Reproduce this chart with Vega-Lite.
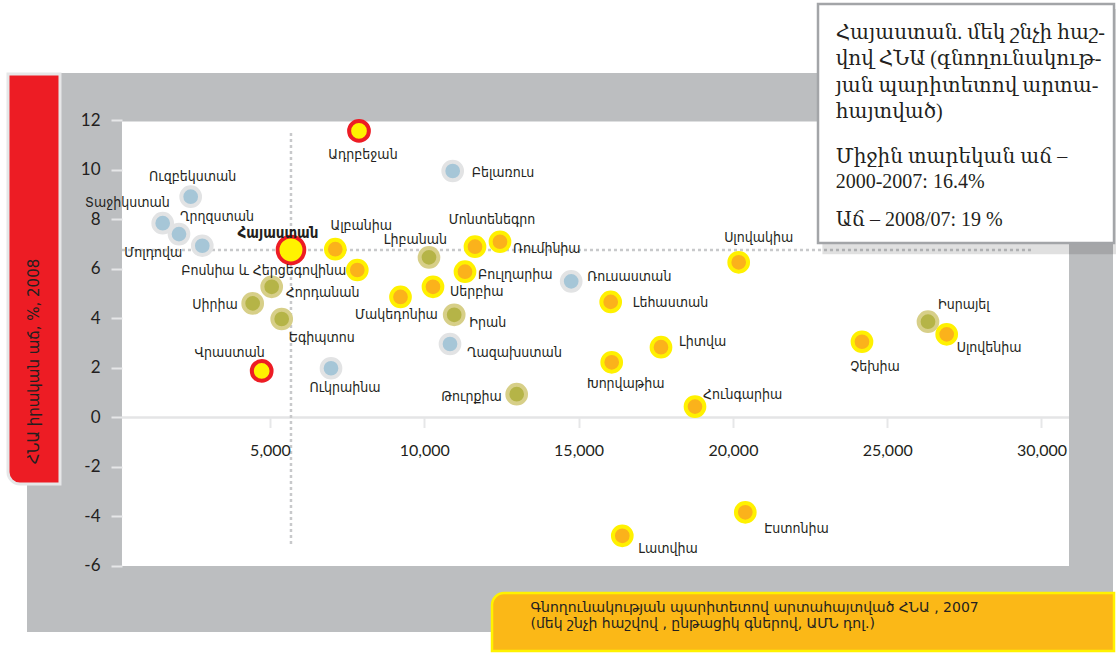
{
 "$schema": "https://vega.github.io/schema/vega-lite/v6.json",
 "width": 1086,
 "height": 559,
 "autosize": {"type": "none"},
 "padding": {"left": 27, "top": 73, "right": 3, "bottom": 22},
 "background": "white",
 "config": {
  "view": {"fill": "#bcbec0", "stroke": null},
  "axis": {"domain": false, "grid": false, "tickColor": "#e6e7e8", "tickWidth": 2, "labelColor": "#231f20", "labelFont": "Lato", "titleColor": "#231f20", "titleFont": "DejaVu Sans", "titleFontWeight": "normal"},
  "text": {"font": "DejaVu Sans Condensed, DejaVu Sans", "fontSize": 14, "fill": "#231f20", "baseline": "middle"}
 },
 "data": {"values": [
  {"country": "Տաջիկստան", "region": "CIS", "gdp": 1523, "growth": 7.85},
  {"country": "Ղրղզստան", "region": "CIS", "gdp": 2051, "growth": 7.41},
  {"country": "Ուզբեկստան", "region": "CIS", "gdp": 2430, "growth": 8.92},
  {"country": "Մոլդովա", "region": "CIS", "gdp": 2806, "growth": 6.94},
  {"country": "Բելառուս", "region": "CIS", "gdp": 10920, "growth": 9.96},
  {"country": "Ուկրաինա", "region": "CIS", "gdp": 6977, "growth": 1.99},
  {"country": "Ղազախստան", "region": "CIS", "gdp": 10833, "growth": 2.97},
  {"country": "Ռուսաստան", "region": "CIS", "gdp": 14760, "growth": 5.5},
  {"country": "Սիրիա", "region": "ME", "gdp": 4439, "growth": 4.61},
  {"country": "Հորդանան", "region": "ME", "gdp": 5055, "growth": 5.28},
  {"country": "Եգիպտոս", "region": "ME", "gdp": 5379, "growth": 3.98},
  {"country": "Լիբանան", "region": "ME", "gdp": 10152, "growth": 6.47},
  {"country": "Իրան", "region": "ME", "gdp": 10969, "growth": 4.15},
  {"country": "Թուրքիա", "region": "ME", "gdp": 12994, "growth": 0.94},
  {"country": "Իսրայել", "region": "ME", "gdp": 26322, "growth": 3.87},
  {"country": "Ալբանիա", "region": "EU", "gdp": 7116, "growth": 6.8},
  {"country": "Բոսնիա և Հերցեգովինա", "region": "EU", "gdp": 7829, "growth": 5.96},
  {"country": "Մակեդոնիա", "region": "EU", "gdp": 9229, "growth": 4.87},
  {"country": "Սերբիա", "region": "EU", "gdp": 10282, "growth": 5.28},
  {"country": "Բուլղարիա", "region": "EU", "gdp": 11319, "growth": 5.89},
  {"country": "Մոնտենեգրո", "region": "EU", "gdp": 11643, "growth": 6.9},
  {"country": "Ռումինիա", "region": "EU", "gdp": 12453, "growth": 7.1},
  {"country": "Լեհաստան", "region": "EU", "gdp": 16040, "growth": 4.67},
  {"country": "Խորվաթիա", "region": "EU", "gdp": 16073, "growth": 2.23},
  {"country": "Լատվիա", "region": "EU", "gdp": 16416, "growth": -4.78},
  {"country": "Լիտվա", "region": "EU", "gdp": 17670, "growth": 2.84},
  {"country": "Հունգարիա", "region": "EU", "gdp": 18772, "growth": 0.44},
  {"country": "Սլովակիա", "region": "EU", "gdp": 20188, "growth": 6.27},
  {"country": "Էստոնիա", "region": "EU", "gdp": 20402, "growth": -3.83},
  {"country": "Չեխիա", "region": "EU", "gdp": 24183, "growth": 3.06},
  {"country": "Սլովենիա", "region": "EU", "gdp": 26928, "growth": 3.36},
  {"country": "Վրաստան", "region": "SC", "gdp": 4731, "growth": 1.88},
  {"country": "Ադրբեջան", "region": "SC", "gdp": 7884, "growth": 11.58},
  {"country": "Հայաստան", "region": "SC", "gdp": 5680, "growth": 6.77}
 ]},
 "layer": [
  {
   "mark": {"type": "point", "shape": "circle", "filled": true, "opacity": 0},
   "encoding": {
    "x": {"field": "gdp", "type": "quantitative", "scale": {"domain": [-2874, 32317], "nice": false, "zero": false},
     "axis": {"orient": "bottom", "offset": -214.5, "zindex": 1, "values": [5000, 10000, 15000, 20000, 25000, 30000], "format": ",d", "tickSize": 10, "labelFontSize": 16, "labelPadding": 15, "labelBaseline": "top",
      "title": ["Գնողունակության պարիտետով արտահայտված ՀՆԱ , 2007", " (մեկ շնչի հաշվով , ընթացիկ գներով, ԱՄՆ դոլ.)"],
      "titleX": 503, "titleY": 189.5, "titleAlign": "left", "titleBaseline": "middle", "titleAngle": 0, "titleFontSize": 14, "titleLineHeight": 16.5, "titleFont": "DejaVu Sans"}},
    "y": {"field": "growth", "type": "quantitative", "scale": {"domain": [-8.667, 13.919], "nice": false, "zero": false},
     "axis": {"orient": "left", "offset": -95, "zindex": 1, "values": [-6, -4, -2, 0, 2, 4, 6, 8, 10, 12], "labelExpr": "'' + datum.value", "tickSize": 11, "labelPadding": 11, "labelFontSize": 17,
      "title": "ՀՆԱ իրական աճ, %, 2008", "titleX": -88.5, "titleY": 288, "titleAngle": 270, "titleAlign": "center", "titleBaseline": "middle", "titleFontSize": 15, "titleFont": "DejaVu Sans"}}
   }
  },
  {
   "data": {"values": [{}]},
   "mark": {"type": "rect", "fill": "white"},
   "encoding": {
    "x": {"datum": 204, "type": "quantitative"},
    "x2": {"datum": 30891},
    "y": {"datum": 11.96, "type": "quantitative"},
    "y2": {"datum": -6}
   }
  },
  {
   "data": {"values": [{}]},
   "mark": {"type": "rule", "stroke": "#e4e5e6", "strokeWidth": 2.5},
   "encoding": {
    "x": {"datum": 204, "type": "quantitative"},
    "x2": {"datum": 30891},
    "y": {"datum": 0, "type": "quantitative"}
   }
  },
  {
   "transform": [{"filter": "datum.country === 'Հայաստան'"}],
   "mark": {"type": "rule", "stroke": "#c8c9cb", "strokeWidth": 2.5, "strokeDash": [3, 3]},
   "encoding": {
    "x": {"field": "gdp", "type": "quantitative"},
    "y": {"datum": 11.49, "type": "quantitative"},
    "y2": {"datum": -5.19}
   }
  },
  {
   "transform": [{"filter": "datum.country === 'Հայաստան'"}],
   "mark": {"type": "rule", "stroke": "#c8c9cb", "strokeWidth": 2.5, "strokeDash": [3, 3]},
   "encoding": {
    "y": {"field": "growth", "type": "quantitative"},
    "x": {"datum": 204, "type": "quantitative"},
    "x2": {"datum": 29692}
   }
  },
  {
   "mark": {"type": "point", "shape": "circle", "filled": true, "opacity": 1, "fillOpacity": 1, "strokeOpacity": 1},
   "encoding": {
    "x": {"field": "gdp", "type": "quantitative"},
    "y": {"field": "growth", "type": "quantitative"},
    "fill": {"field": "region", "type": "nominal", "legend": null, "scale": {"domain": ["CIS", "ME", "EU", "SC"], "range": ["#a6c6d7", "#b5b447", "#fbb21b", "#fff200"]}},
    "stroke": {"field": "region", "type": "nominal", "legend": null, "scale": {"domain": ["CIS", "ME", "EU", "SC"], "range": ["#e2e3e4", "#d7cf88", "#fff100", "#ed1c24"]}},
    "size": {"condition": [{"test": "datum.country === 'Հայաստան'", "value": 718}, {"test": "datum.region === 'SC'", "value": 390}], "value": 350},
    "strokeWidth": {"condition": [{"test": "datum.country === 'Հայաստան'", "value": 3.8}], "value": 4}
   }
  },
  {
   "encoding": {
    "x": {"field": "gdp", "type": "quantitative"},
    "y": {"field": "growth", "type": "quantitative"},
    "text": {"field": "country", "type": "nominal"}
   },
   "layer": [
    {"transform": [{"filter": "datum.country === 'Ադրբեջան'"}], "mark": {"type": "text", "align": "center", "dx": 4, "dy": 24}},
    {"transform": [{"filter": "datum.country === 'Բելառուս'"}], "mark": {"type": "text", "align": "left", "dx": 19, "dy": 2}},
    {"transform": [{"filter": "datum.country === 'Ուզբեկստան'"}], "mark": {"type": "text", "align": "center", "dx": 2, "dy": -20}},
    {"transform": [{"filter": "datum.country === 'Տաջիկստան'"}], "mark": {"type": "text", "align": "right", "dx": 7, "dy": -20}},
    {"transform": [{"filter": "datum.country === 'Ղրղզստան'"}], "mark": {"type": "text", "align": "left", "dx": 1, "dy": -17}},
    {"transform": [{"filter": "datum.country === 'Մոլդովա'"}], "mark": {"type": "text", "align": "right", "dx": -20, "dy": 7}},
    {"transform": [{"filter": "datum.country === 'Հայաստան'"}], "mark": {"type": "text", "align": "center", "dx": -13, "dy": -17, "fontWeight": "bold", "fontSize": 15}},
    {"transform": [{"filter": "datum.country === 'Ալբանիա'"}], "mark": {"type": "text", "align": "center", "dx": 26, "dy": -23}},
    {"transform": [{"filter": "datum.country === 'Բոսնիա և Հերցեգովինա'"}], "mark": {"type": "text", "align": "right", "dx": -11, "dy": 1}},
    {"transform": [{"filter": "datum.country === 'Հորդանան'"}], "mark": {"type": "text", "align": "left", "dx": 14, "dy": 6}},
    {"transform": [{"filter": "datum.country === 'Սիրիա'"}], "mark": {"type": "text", "align": "right", "dx": -15, "dy": 2}},
    {"transform": [{"filter": "datum.country === 'Եգիպտոս'"}], "mark": {"type": "text", "align": "left", "dx": 7, "dy": 19}},
    {"transform": [{"filter": "datum.country === 'Վրաստան'"}], "mark": {"type": "text", "align": "right", "dx": 3, "dy": -18}},
    {"transform": [{"filter": "datum.country === 'Ուկրաինա'"}], "mark": {"type": "text", "align": "center", "dx": 14, "dy": 20}},
    {"transform": [{"filter": "datum.country === 'Լիբանան'"}], "mark": {"type": "text", "align": "right", "dx": 18, "dy": -17}},
    {"transform": [{"filter": "datum.country === 'Մոնտենեգրո'"}], "mark": {"type": "text", "align": "center", "dx": 17, "dy": -27}},
    {"transform": [{"filter": "datum.country === 'Ռումինիա'"}], "mark": {"type": "text", "align": "left", "dx": 13, "dy": 7}},
    {"transform": [{"filter": "datum.country === 'Բուլղարիա'"}], "mark": {"type": "text", "align": "left", "dx": 13, "dy": 3}},
    {"transform": [{"filter": "datum.country === 'Սերբիա'"}], "mark": {"type": "text", "align": "left", "dx": 17, "dy": 5}},
    {"transform": [{"filter": "datum.country === 'Մակեդոնիա'"}], "mark": {"type": "text", "align": "center", "dx": -4, "dy": 18}},
    {"transform": [{"filter": "datum.country === 'Իրան'"}], "mark": {"type": "text", "align": "left", "dx": 15, "dy": 8}},
    {"transform": [{"filter": "datum.country === 'Ղազախստան'"}], "mark": {"type": "text", "align": "left", "dx": 17, "dy": 9}},
    {"transform": [{"filter": "datum.country === 'Թուրքիա'"}], "mark": {"type": "text", "align": "right", "dx": -15, "dy": 3}},
    {"transform": [{"filter": "datum.country === 'Ռուսաստան'"}], "mark": {"type": "text", "align": "left", "dx": 16, "dy": -4}},
    {"transform": [{"filter": "datum.country === 'Լեհաստան'"}], "mark": {"type": "text", "align": "left", "dx": 22, "dy": 1}},
    {"transform": [{"filter": "datum.country === 'Սլովակիա'"}], "mark": {"type": "text", "align": "center", "dx": 20, "dy": -24}},
    {"transform": [{"filter": "datum.country === 'Լիտվա'"}], "mark": {"type": "text", "align": "left", "dx": 18, "dy": -5}},
    {"transform": [{"filter": "datum.country === 'Խորվաթիա'"}], "mark": {"type": "text", "align": "center", "dx": 14, "dy": 22}},
    {"transform": [{"filter": "datum.country === 'Հունգարիա'"}], "mark": {"type": "text", "align": "left", "dx": 8, "dy": -12}},
    {"transform": [{"filter": "datum.country === 'Չեխիա'"}], "mark": {"type": "text", "align": "center", "dx": 13, "dy": 25}},
    {"transform": [{"filter": "datum.country === 'Իսրայել'"}], "mark": {"type": "text", "align": "left", "dx": 10, "dy": -17}},
    {"transform": [{"filter": "datum.country === 'Սլովենիա'"}], "mark": {"type": "text", "align": "left", "dx": 10, "dy": 14}},
    {"transform": [{"filter": "datum.country === 'Լատվիա'"}], "mark": {"type": "text", "align": "left", "dx": 16, "dy": 13}},
    {"transform": [{"filter": "datum.country === 'Էստոնիա'"}], "mark": {"type": "text", "align": "left", "dx": 19, "dy": 17}}
   ]
  },
  {
   "data": {"values": [{}]},
   "mark": {"type": "rect", "fill": "#ed1c24", "stroke": "#e6e7e8", "strokeWidth": 3, "cornerRadiusBottomLeft": 12},
   "encoding": {
    "x": {"datum": -3490, "type": "quantitative"},
    "x2": {"datum": -1805},
    "y": {"datum": 13.879, "type": "quantitative"},
    "y2": {"datum": -2.687}
   }
  },
  {
   "data": {"values": [{}]},
   "mark": {"type": "rect", "fill": "#fbb817", "stroke": "#fff200", "strokeWidth": 2.5, "cornerRadiusTopLeft": 12},
   "encoding": {
    "x": {"datum": 12194, "type": "quantitative"},
    "x2": {"datum": 32350},
    "y": {"datum": -7.091, "type": "quantitative"},
    "y2": {"datum": -9.435}
   }
  },
  {
   "data": {"values": [{}]},
   "mark": {"type": "rect", "fill": "#000000", "opacity": 0.12},
   "encoding": {
    "x": {"datum": 22900, "type": "quantitative"},
    "x2": {"datum": 32500},
    "y": {"datum": 16.5, "type": "quantitative"},
    "y2": {"datum": 6.6}
   }
  },
  {
   "data": {"values": [{}]},
   "mark": {"type": "rect", "fill": "white", "stroke": "#a3a5a8", "strokeWidth": 2.5},
   "encoding": {
    "x": {"datum": 22758, "type": "quantitative"},
    "x2": {"datum": 32350},
    "y": {"datum": 16.707, "type": "quantitative"},
    "y2": {"datum": 7.05}
   }
  },
  {
   "data": {"values": [{}]},
   "mark": {"type": "text", "text": ["Հայաստան. մեկ շնչի հաշ-", "վով ՀՆԱ (գնողունակութ-", "յան պարիտետով արտա-", "հայտված)"], "align": "left", "baseline": "middle", "lineHeight": 26.3, "font": "Liberation Serif, DejaVu Serif", "fontSize": 20, "fill": "#231f20"},
   "encoding": {
    "x": {"datum": 23331, "type": "quantitative"},
    "y": {"datum": 15.535, "type": "quantitative"}
   }
  },
  {
   "data": {"values": [{}]},
   "mark": {"type": "text", "text": ["Միջին տարեկան աճ –", "2000-2007: 16.4%"], "align": "left", "baseline": "middle", "lineHeight": 25, "font": "Liberation Serif, DejaVu Serif", "fontSize": 20, "fill": "#231f20"},
   "encoding": {
    "x": {"datum": 23331, "type": "quantitative"},
    "y": {"datum": 10.525, "type": "quantitative"}
   }
  },
  {
   "data": {"values": [{}]},
   "mark": {"type": "text", "text": "Աճ – 2008/07: 19 %", "align": "left", "baseline": "middle", "font": "Liberation Serif, DejaVu Serif", "fontSize": 20, "fill": "#231f20"},
   "encoding": {
    "x": {"datum": 23331, "type": "quantitative"},
    "y": {"datum": 7.98, "type": "quantitative"}
   }
  }
 ]
}
